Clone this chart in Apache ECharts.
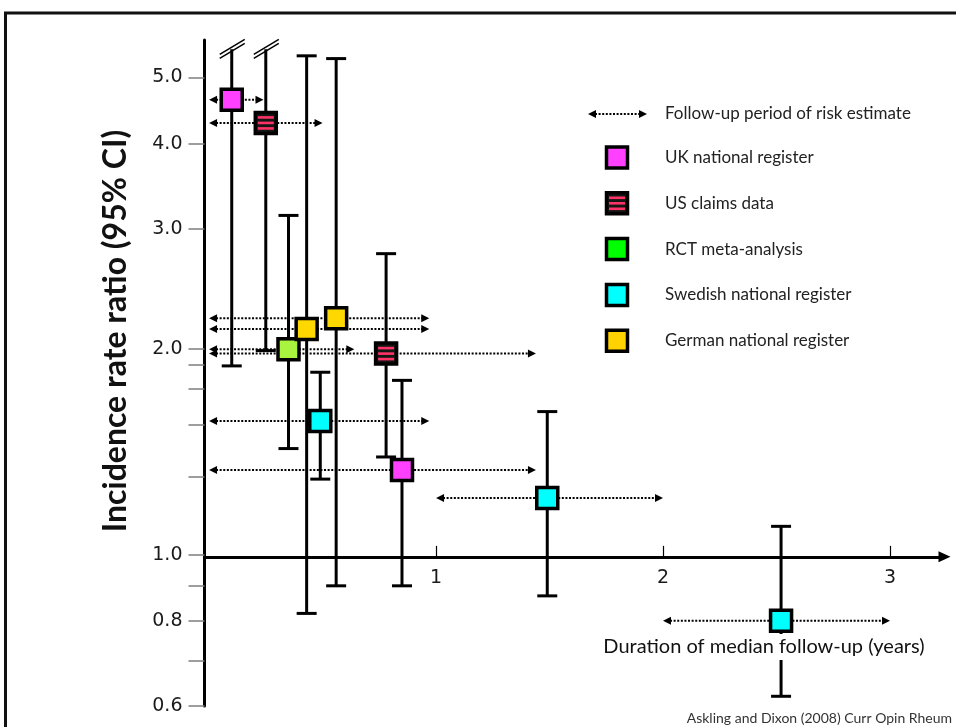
<!DOCTYPE html>
<html>
<head>
<meta charset="utf-8">
<style>
  html, body { margin: 0; height: 100%; background: #fff; }
  #chart { width: 956px; height: 727px; }
</style>
</head>
<body>
<div id="chart"></div>
<script src="https://cdn.jsdelivr.net/npm/echarts@6/dist/echarts.min.js"></script>
<script>
var sources = ['UK national register', 'US claims data', 'RCT meta-analysis', 'Swedish national register', 'German national register'];
var legendColors = ['#ff40ff', '#151515', '#00ff00', '#00ffff', '#ffd200'];
// colour of the markers inside the plot (the RCT marker is lighter than its key)
var markerColors = ['#ff40ff', '#151515', '#a8f43e', '#00ffff', '#ffd800'];

// one entry per risk estimate, ordered by median follow-up
var studySource = [0, 1, 2, 4, 3, 4, 1, 0, 3, 3];
var medianFollowUp = [0.10, 0.25, 0.35, 0.43, 0.49, 0.56, 0.78, 0.85, 1.49, 2.52];
var rateRatio = [4.64, 4.29, 2.00, 2.14, 1.57, 2.22, 1.97, 1.33, 1.21, 0.80];
var ciLow = [1.89, 1.99, 1.43, 0.82, 1.29, 0.90, 1.39, 0.90, 0.87, 0.62];
var ciHigh = [5.5, 5.5, 3.14, 5.38, 1.85, 5.33, 2.76, 1.80, 1.62, 1.10];
var ciCut = [1, 1, 0, 0, 0, 0, 0, 0, 0, 0]; // upper limit runs off the scale
var periodStart = [0, 0, 0, 0, 0, 0, 0, 0, 1, 2];
var periodEnd = [0.24, 0.50, 0.64, 0.97, 0.97, 0.97, 1.44, 1.44, 2, 3];

var yTicks = [0.6, 0.7, 0.8, 0.9, 1.0, 1.3, 1.55, 1.75, 1.9, 2.0, 3.0, 4.0, 5.0];
var yLabels = [0.6, 0.8, 1.0, 2.0, 3.0, 4.0, 5.0];
var xTicks = [1, 2, 3];

var rows = medianFollowUp.map(function (x, i) {
    return [x, rateRatio[i], ciLow[i], ciHigh[i], ciCut[i], studySource[i], periodStart[i], periodEnd[i]];
});

function arrowShape(x0, x1, y) {
    var h = 8;
    return {
        type: 'group',
        children: [
            { type: 'line', shape: { x1: x0 + h - 1, y1: y, x2: x1 - h + 1, y2: y },
              style: { stroke: '#000', lineWidth: 2, lineDash: [2, 1.6] } },
            { type: 'polygon', shape: { points: [[x0, y], [x0 + h, y - 4], [x0 + h, y + 4]] }, style: { fill: '#000' } },
            { type: 'polygon', shape: { points: [[x1, y], [x1 - h, y - 4], [x1 - h, y + 4]] }, style: { fill: '#000' } }
        ]
    };
}

function markerShape(cx, cy, s, fill) {
    var half = 10.5;
    var kids = [{
        type: 'rect',
        shape: { x: cx - half, y: cy - half, width: half * 2, height: half * 2 },
        style: { fill: fill, stroke: '#000', lineWidth: 3.5 }
    }];
    if (s === 1) {
        [-5.5, 0, 5.5].forEach(function (dy) {
            kids.push({ type: 'rect', shape: { x: cx - 8, y: cy + dy - 1.3, width: 16, height: 2.6 }, style: { fill: '#ff3366' } });
        });
    }
    return { type: 'group', children: kids };
}

function renderArrow(params, api) {
    var a = api.coord([api.value(6), api.value(1)]);
    var b = api.coord([api.value(7), api.value(1)]);
    return arrowShape(a[0], b[0], a[1]);
}

function renderBar(params, api) {
    var x = api.value(0);
    var top = api.coord([x, api.value(3)]);
    var bot = api.coord([x, api.value(2)]);
    var ink = { stroke: '#000', lineWidth: 3 };
    var kids = [
        { type: 'line', shape: { x1: top[0], y1: top[1], x2: bot[0], y2: bot[1] }, style: ink },
        { type: 'line', shape: { x1: bot[0] - 10, y1: bot[1], x2: bot[0] + 10, y2: bot[1] }, style: ink }
    ];
    if (api.value(4)) {
        [-2, 2].forEach(function (d) {
            kids.push({ type: 'line', shape: { x1: top[0] - 12, y1: top[1] + 7 + d, x2: top[0] + 13, y2: top[1] - 8 + d },
                        style: { stroke: '#000', lineWidth: 1.5 } });
        });
    } else {
        kids.push({ type: 'line', shape: { x1: top[0] - 10, y1: top[1], x2: top[0] + 10, y2: top[1] }, style: ink });
    }
    return { type: 'group', children: kids };
}

function renderMarker(params, api) {
    var p = api.coord([api.value(0), api.value(1)]);
    var s = api.value(5);
    return markerShape(p[0], p[1], s, markerColors[s]);
}

// legend, drawn as graphics
var legendX = 617, legendTextX = 665, legendArrowY = 114, legendFirstY = 157.5, legendGap = 45.8;
var graphics = [
    { type: 'rect', z: 0, silent: true, shape: { x: 5.5, y: 13, width: 1200, height: 1200 },
      style: { fill: 'none', stroke: '#111', lineWidth: 3 } },
    arrowShape(588, 647, legendArrowY),
    { type: 'text', x: legendTextX, y: legendArrowY,
      style: { text: 'Follow-up period of risk estimate', font: '17px Lato', fill: '#222', verticalAlign: 'middle' } },
    { type: 'text', x: 116, y: 331, rotation: Math.PI / 2,
      style: { text: 'Incidence rate ratio (95% CI)', font: 'bold 32px Lato', fill: '#111', align: 'center', verticalAlign: 'middle' } },
    { type: 'text', x: 764, y: 647, z: 50,
      style: { text: 'Duration of median follow-up (years)', font: '20px Lato', fill: '#111', align: 'center',
               verticalAlign: 'middle', backgroundColor: '#fff', padding: [3, 4] } },
    { type: 'text', x: 952, y: 718,
      style: { text: 'Askling and Dixon (2008) Curr Opin Rheum', font: '14px Lato', fill: '#333', align: 'right', verticalAlign: 'middle' } }
];
sources.forEach(function (name, s) {
    var y = legendFirstY + s * legendGap;
    graphics.push(markerShape(legendX, y, s, legendColors[s]));
    graphics.push({ type: 'text', x: legendTextX, y: y,
        style: { text: name, font: '17px Lato', fill: '#222', verticalAlign: 'middle' } });
});

var chart = echarts.init(document.getElementById('chart'));
var option = {
    backgroundColor: '#fff',
    animation: false,
    grid: { left: 204.5, right: 11.5, top: 40, bottom: 21, containLabel: false },
    xAxis: {
        type: 'value', min: -0.02, max: 3.24,
        splitLine: { show: false },
        axisLine: { show: true, onZero: false, lineStyle: { color: '#000', width: 3 },
                    symbol: ['none', 'triangle'], symbolSize: [11, 12] },
        axisTick: { show: true, inside: true, length: 11, customValues: xTicks, lineStyle: { color: '#000', width: 1.2 } },
        axisLabel: { customValues: xTicks, fontFamily: 'DejaVu Sans', fontSize: 19, color: '#1a1a1a', margin: 12 }
    },
    yAxis: {
        type: 'log', logBase: 10, min: 0.6, max: 5.675,
        splitLine: { show: false },
        axisLine: { show: true, onZero: false, lineStyle: { color: '#000', width: 3 } },
        axisTick: { show: true, length: 16, customValues: yTicks, lineStyle: { color: '#7f7f7f', width: 1.5 } },
        axisLabel: { customValues: yLabels, fontFamily: 'DejaVu Sans', fontSize: 19, color: '#1a1a1a', margin: 22,
                     formatter: function (v) { return (+v).toFixed(1); } }
    },
    series: [
        { type: 'custom', name: 'follow-up', z: 2, renderItem: renderArrow, data: rows, encode: { x: 0, y: 1 } },
        { type: 'custom', name: 'ci', z: 3, renderItem: renderBar, data: rows, encode: { x: 0, y: 1 } },
        { type: 'custom', name: 'estimate', z: 4, renderItem: renderMarker, data: rows, encode: { x: 0, y: 1 } }
    ],
    graphic: { elements: graphics }
};
chart.setOption(option);

// put the x axis on the line IRR = 1.0
var yOne = chart.convertToPixel({ yAxisIndex: 0 }, 1);
var yBottom = chart.convertToPixel({ yAxisIndex: 0 }, 0.6);
chart.setOption({ xAxis: { offset: yOne - yBottom } });
</script>
</body>
</html>
